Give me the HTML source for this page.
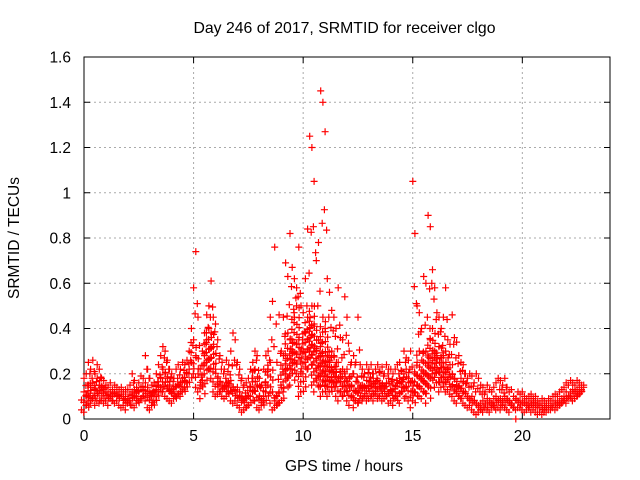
<!DOCTYPE html>
<html><head><meta charset="utf-8"><style>
body{margin:0;background:#fff;}
svg{display:block;font-family:"Liberation Sans",sans-serif;}
</style></head><body>
<svg id="chart" width="640" height="480">
<text x="344.5" y="33" font-size="15.8" text-anchor="middle" fill="#000">Day 246 of 2017, SRMTID for receiver clgo</text>
<text x="344" y="471" font-size="15.5" text-anchor="middle" fill="#000">GPS time / hours</text>
<text transform="translate(19,238) rotate(-90)" font-size="15.5" text-anchor="middle" fill="#000">SRMTID / TECUs</text>
<g id="grid"></g>
<g id="axes"></g>
<g id="marks"></g>
</svg>
<script>
const xTicks=[0,5,10,15,20];
const yTicks=[0,0.2,0.4,0.6,0.8,1,1.2,1.4,1.6];
const yTickLabels=["0","0.2","0.4","0.6","0.8","1","1.2","1.4","1.6"];
const hourStart=0, hourStep=0.1;
const loVals=[.04,.03,.06,.08,.07,.09,.06,.08,.07,.08,
.07,.08,.06,.09,.08,.07,.08,.06,.05,.06,
.04,.07,.08,.06,.05,.07,.08,.09,.10,.08,
.05,.04,.06,.08,.10,.12,.14,.12,.10,.09,
.08,.07,.09,.10,.11,.10,.12,.14,.16,.20,
.25,.20,.14,.12,.09,.15,.20,.25,.22,.18,
.12,.10,.11,.12,.10,.09,.10,.12,.08,.07,
.08,.06,.05,.03,.04,.05,.06,.10,.12,.08,
.05,.04,.06,.08,.12,.15,.07,.04,.05,.06,
.07,.15,.12,.20,.18,.15,.22,.25,.20,.10,
.12,.20,.25,.22,.30,.15,.12,.18,.15,.10,
.12,.15,.10,.12,.14,.16,.10,.08,.12,.10,
.12,.08,.06,.10,.05,.08,.07,.09,.08,.10,
.08,.09,.10,.08,.11,.09,.10,.08,.09,.10,
.07,.08,.06,.09,.10,.07,.12,.14,.10,.08,
.05,.08,.12,.15,.10,.09,.12,.07,.15,.18,
.20,.14,.16,.12,.14,.16,.12,.13,.11,.10,
.08,.07,.10,.09,.07,.06,.05,.06,.04,.03,
.02,.03,.04,.03,.05,.04,.03,.05,.06,.04,
.05,.04,.06,.05,.04,.03,.06,.05,.04,.05,
.05,.04,.03,.04,.05,.03,.04,.03,.02,.03,
.02,.03,.03,.04,.04,.05,.04,.05,.06,.07,
.08,.07,.09,.10,.08,.09,.10,.11,.12];
const midVals=[.12,.10,.15,.14,.16,.13,.18,.15,.14,.13,
.12,.11,.12,.10,.11,.12,.10,.11,.09,.10,
.09,.11,.12,.13,.10,.12,.14,.13,.16,.14,
.12,.10,.11,.13,.15,.18,.22,.20,.18,.15,
.13,.12,.14,.15,.16,.18,.17,.20,.22,.25,
.35,.28,.20,.15,.17,.28,.35,.40,.38,.32,
.22,.18,.16,.15,.14,.16,.15,.17,.14,.13,
.14,.12,.10,.08,.09,.10,.14,.18,.22,.15,
.10,.09,.10,.14,.22,.25,.12,.08,.10,.12,
.14,.28,.22,.38,.35,.30,.45,.50,.35,.20,
.30,.38,.45,.40,.50,.42,.30,.35,.28,.45,
.40,.28,.25,.30,.28,.22,.25,.18,.22,.20,
.22,.18,.15,.20,.12,.16,.14,.15,.14,.17,
.15,.16,.18,.14,.17,.16,.15,.14,.16,.18,
.13,.15,.12,.16,.18,.14,.20,.22,.18,.16,
.12,.20,.25,.30,.18,.20,.30,.25,.35,.40,
.30,.28,.32,.25,.28,.30,.22,.24,.20,.18,
.15,.14,.18,.16,.12,.10,.09,.10,.08,.07,
.06,.07,.08,.07,.09,.08,.07,.09,.10,.08,
.09,.08,.10,.09,.08,.07,.10,.09,.08,.08,
.08,.07,.06,.07,.08,.06,.07,.05,.05,.06,
.04,.05,.06,.06,.07,.08,.07,.08,.09,.10,
.12,.10,.12,.13,.12,.13,.14,.13,.14];
const hiVals=[.18,.20,.25,.22,.26,.20,.24,.22,.18,.17,
.15,.14,.16,.13,.15,.14,.13,.14,.12,.13,
.13,.15,.20,.17,.14,.16,.19,.18,.28,.22,
.18,.15,.16,.20,.24,.28,.32,.30,.26,.22,
.20,.18,.22,.24,.22,.25,.24,.26,.30,.40,
.58,.74,.45,.22,.30,.38,.46,.50,.61,.45,
.42,.35,.28,.25,.22,.26,.24,.30,.38,.35,
.25,.22,.18,.15,.16,.18,.22,.25,.30,.28,
.18,.15,.22,.28,.30,.45,.52,.76,.25,.46,
.30,.45,.69,.63,.82,.67,.62,.58,.76,.50,
.47,.62,.84,1.25,1.20,1.05,.70,.78,1.45,1.40,
1.27,.62,.56,.48,.45,.40,.58,.36,.35,.54,
.45,.30,.25,.28,.25,.45,.24,.22,.20,.24,
.22,.24,.20,.22,.24,.21,.23,.20,.24,.22,
.22,.20,.22,.24,.25,.21,.30,.27,.26,.30,
1.05,.82,.50,.47,.40,.63,.60,.90,.85,.66,
.58,.47,.45,.40,.45,.58,.35,.33,.46,.36,
.34,.28,.25,.24,.20,.18,.20,.19,.16,.20,
.18,.15,.14,.12,.15,.13,.12,.14,.16,.18,
.17,.15,.18,.14,.12,.13,.10,.09,.12,.11,
.12,.10,.09,.10,.11,.09,.10,.08,.07,.09,
.08,.07,.09,.08,.10,.11,.10,.12,.13,.14,
.16,.15,.17,.16,.15,.17,.16,.15,.15];
const outlierHours=[19.7];
const outlierVals=[0.0];

const L=84,R=610,T=57,B=419,XMAX=24,YMAX=1.6;
const xs=v=>L+(v/XMAX)*(R-L);
const ys=v=>B-(v/YMAX)*(B-T);
const NS="http://www.w3.org/2000/svg";
function mk(tag,attrs,parent){const e=document.createElementNS(NS,tag);for(const k in attrs)e.setAttribute(k,attrs[k]);parent.appendChild(e);return e;}
const grid=document.getElementById('grid'),axes=document.getElementById('axes'),marks=document.getElementById('marks');

yTicks.forEach((t,i)=>{
  const y=ys(t);
  if(i>0&&i<yTicks.length-1){const g=mk('line',{x1:L,x2:R,y1:y,y2:y,stroke:'#aaa','stroke-dasharray':'2,3','stroke-width':1},grid);
  
  }
  mk('line',{x1:L,x2:L+6,y1:y,y2:y,stroke:'#000'},axes);
  mk('line',{x1:R,x2:R-6,y1:y,y2:y,stroke:'#000'},axes);
  const tx=mk('text',{x:L-13,y:y+5.5,'font-size':15.5,'text-anchor':'end'},axes);
  tx.textContent=yTickLabels[i];
  
  
});
xTicks.forEach(t=>{
  const x=xs(t);
  if(t>0){const g=mk('line',{x1:x,x2:x,y1:T,y2:B,stroke:'#aaa','stroke-dasharray':'2,3','stroke-width':1},grid);
  
  }
  mk('line',{x1:x,x2:x,y1:B,y2:B-6,stroke:'#000'},axes);
  mk('line',{x1:x,x2:x,y1:T,y2:T+6,stroke:'#000'},axes);
  const tx=mk('text',{x:x,y:B+22,'font-size':15.5,'text-anchor':'middle'},axes);
  tx.textContent=String(t);
  
  
});
const frame=mk('rect',{x:L,y:T,width:R-L,height:B-T,fill:'none',stroke:'#000','stroke-width':1},axes);



let d='';
function plus(x,y){d+=`M${(x-3.5).toFixed(1)} ${y.toFixed(1)}h7M${x.toFixed(1)} ${(y-3.5).toFixed(1)}v7`;}
loVals.forEach((lo,i)=>{
  const h=hourStart+i*hourStep, mid=midVals[i], hi=hiVals[i];
  const x=xs(h);
  let k=0;
  for(let v=lo; v<=mid+1e-9; v+=0.022){plus(x+((k%2)?2.5:-2.5),ys(v));k++;}
  plus(x,ys(mid));
  const gap=hi-mid;
  if(gap>0.06){plus(x+1.5,ys(mid+gap*0.5));}
  plus(x,ys(hi));
});
outlierHours.forEach((h,i)=>plus(xs(h),ys(outlierVals[i])));
const p=mk('path',{d:d,stroke:'#ff0000','stroke-width':1.2,fill:'none'},marks);


</script>
</body></html>
